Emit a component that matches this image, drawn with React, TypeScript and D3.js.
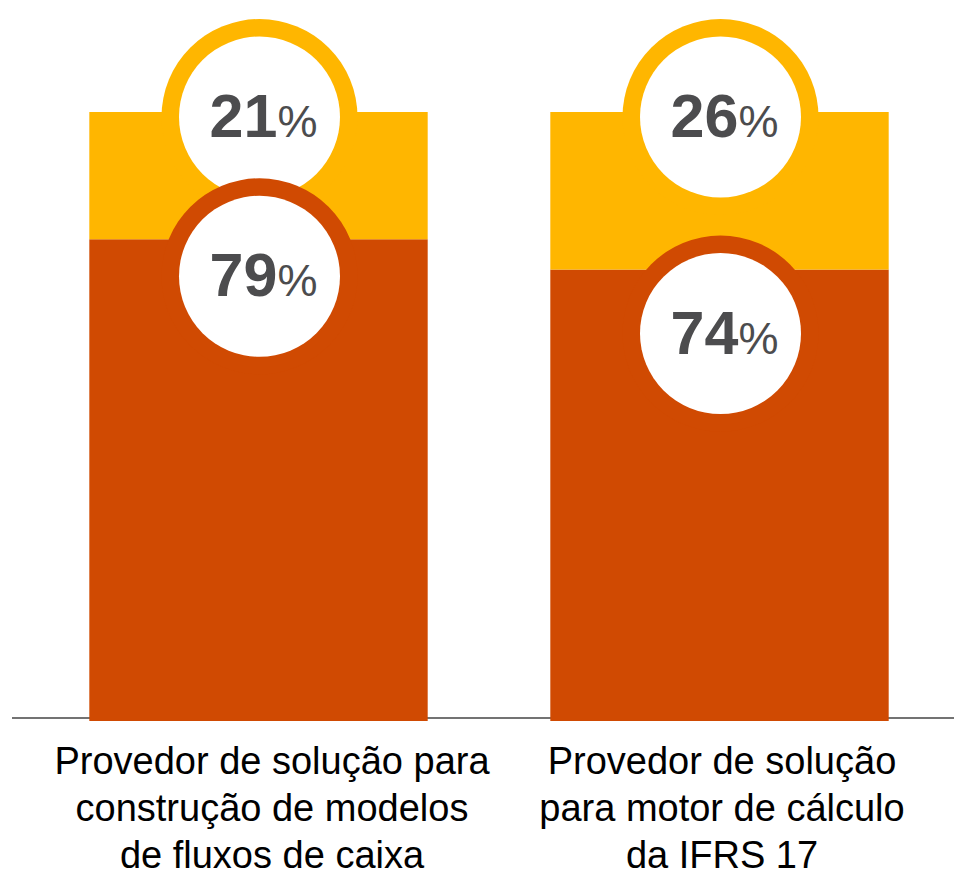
import React from "react";
import * as d3 from "d3";

// Categories and stacked shares (percent)
const categories = [
  "Provedor de solução para construção de modelos de fluxos de caixa",
  "Provedor de solução para motor de cálculo da IFRS 17",
];
const categoryLines = [
  ["Provedor de solução para", "construção de modelos", "de fluxos de caixa"],
  ["Provedor de solução", "para motor de cálculo", "da IFRS 17"],
];
const lowerShare = [79, 74];
const upperShare = [21, 26];
const seriesKeys = ["lower", "upper"];

// Layout
const W = 954;
const H = 872;
const BASE_Y = 718;
const TOP_Y = 112;
const BAR_OVERHANG = 3;
const RING_R = 98;
const INNER_R = 80.5;
// vertical drop of the lower badge below its segment top
const lowerBadgeDrop = [37, 64];
// horizontal shift of the category caption from the bar centre
const captionShift = [13.5, 2.5];

const COLORS: Record<string, string> = { lower: "#D04A02", upper: "#FFB600" };
const TEXT_GREY = "#4c4c4e";
const FONT = "'Liberation Sans', Arial, Helvetica, sans-serif";

export default function App() {
  const rows = categories.map((c, i) => ({
    category: c,
    lower: lowerShare[i],
    upper: upperShare[i],
  }));
  const stacked = d3.stack<any>().keys(seriesKeys)(rows);

  const x = d3
    .scaleBand<string>()
    .domain(categories)
    .range([28, 950])
    .paddingInner(0.266)
    .paddingOuter(0.133);
  const y = d3.scaleLinear().domain([0, 100]).range([BASE_Y, TOP_Y]);

  const bw = x.bandwidth();

  const badge = (
    key: string,
    cx: number,
    cy: number,
    value: number,
    k: string
  ) => (
    <g key={k}>
      <circle cx={cx} cy={cy} r={RING_R} fill={COLORS[key]} />
      <circle cx={cx} cy={cy} r={INNER_R} fill="#ffffff" />
    </g>
  );

  const label = (cx: number, cy: number, value: number, k: string) => (
    <text
      key={k}
      x={cx + 4}
      y={cy + 20}
      textAnchor="middle"
      fontFamily={FONT}
      fill={TEXT_GREY}
    >
      <tspan fontSize={61} fontWeight={700}>
        {value}
      </tspan>
      <tspan fontSize={45} fontWeight={400}>
        %
      </tspan>
    </text>
  );

  return (
    <svg
      width={W}
      height={H}
      viewBox={`0 0 ${W} ${H}`}
      style={{ position: "absolute", left: 0, top: 0, display: "block" }}
    >
      <rect width={W} height={H} fill="#ffffff" />
      {/* baseline */}
      <line x1={12} x2={W} y1={BASE_Y} y2={BASE_Y} stroke="#454545" strokeWidth={1.5} />

      {/* stacked bars */}
      {stacked.map((s) => (
        <g key={s.key}>
          {s.map((d, i) => {
            const x0 = x(categories[i])!;
            const yTop = y(d[1]);
            const yBot = d[0] === 0 ? y(0) + BAR_OVERHANG : y(d[0]);
            return (
              <rect
                key={i}
                x={x0}
                y={yTop}
                width={bw}
                height={yBot - yTop}
                fill={COLORS[s.key]}
              />
            );
          })}
        </g>
      ))}

      {/* upper badges */}
      {categories.map((c, i) => {
        const cx = x(c)! + bw / 2 + 1;
        const cy = y(lowerShare[i] + upperShare[i]) + 5;
        return badge("upper", cx, cy, upperShare[i], `ub${i}`);
      })}
      {/* lower badges */}
      {categories.map((c, i) => {
        const cx = x(c)! + bw / 2 + 1;
        const cy = y(lowerShare[i]) + lowerBadgeDrop[i];
        return badge("lower", cx, cy, lowerShare[i], `lb${i}`);
      })}

      {/* value labels */}
      {categories.map((c, i) => {
        const cx = x(c)! + bw / 2 + 1;
        return (
          <g key={`vl${i}`}>
            {label(cx, y(lowerShare[i] + upperShare[i]) + 5, upperShare[i], "u")}
            {label(cx, y(lowerShare[i]) + lowerBadgeDrop[i], lowerShare[i], "l")}
          </g>
        );
      })}

      {/* category captions */}
      {categories.map((c, i) => (
        <text
          key={`cap${i}`}
          x={x(c)! + bw / 2 + captionShift[i]}
          y={774}
          textAnchor="middle"
          fontFamily={FONT}
          fontSize={38}
          fill="#000000"
        >
          {categoryLines[i].map((line, j) => (
            <tspan key={j} x={x(c)! + bw / 2 + captionShift[i]} dy={j === 0 ? 0 : 47}>
              {line}
            </tspan>
          ))}
        </text>
      ))}
    </svg>
  );
}
